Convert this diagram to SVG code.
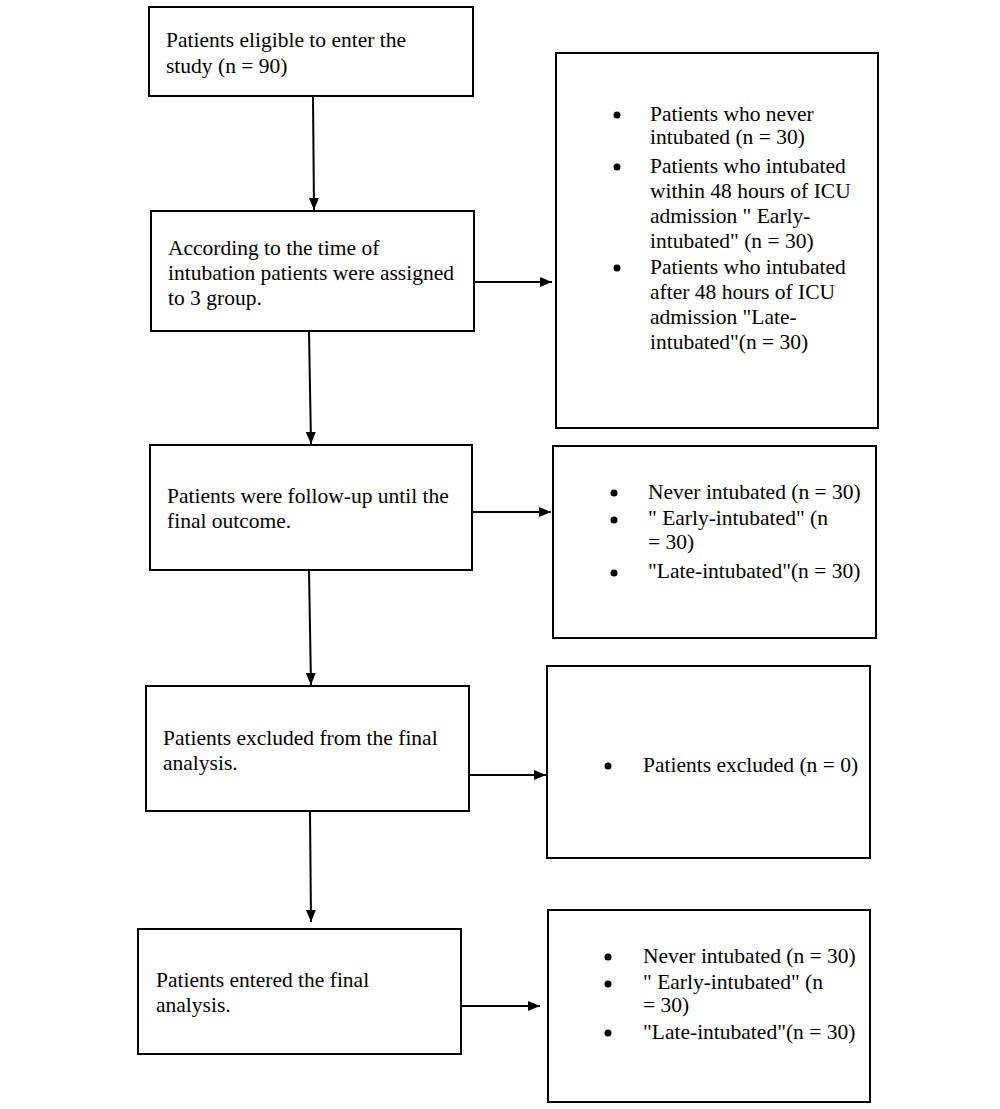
<svg xmlns="http://www.w3.org/2000/svg" width="1000" height="1109" viewBox="0 0 1000 1109">
<style>
  .box { fill: #fff; stroke: #000; stroke-width: 2; }
  .t { font-family: "Liberation Serif", "Times New Roman", serif; font-size: 21.5px; fill: #000; }
  .c { stroke: #000; stroke-width: 2; fill: none; marker-end: url(#ah); }
  .dot { fill: #000; }
</style>
<defs>
  <marker id="ah" viewBox="0 0 12 10" refX="12" refY="5" markerWidth="12" markerHeight="10" markerUnits="userSpaceOnUse" orient="auto">
    <path d="M0,0 L12,5 L0,10 Z" fill="#000"/>
  </marker>
</defs>
<rect width="1000" height="1109" fill="#fff"/>

<g id="connectors">
  <line class="c" x1="313" y1="97" x2="314" y2="210"/>
  <line class="c" x1="474" y1="282" x2="552" y2="282"/>
  <line class="c" x1="309" y1="332" x2="311" y2="444"/>
  <line class="c" x1="472" y1="512" x2="551" y2="512"/>
  <line class="c" x1="309" y1="571" x2="311" y2="685"/>
  <line class="c" x1="469" y1="775" x2="546" y2="775"/>
  <line class="c" x1="310" y1="812" x2="311" y2="922"/>
  <line class="c" x1="461" y1="1006" x2="540" y2="1006"/>
</g>

<g id="n1">
  <rect class="box" x="149" y="7" width="324" height="89"/>
  <text class="t" x="166" y="47">Patients eligible to enter the</text>
  <text class="t" x="166" y="73">study (n = 90)</text>
</g>

<g id="n2">
  <rect class="box" x="151" y="211" width="323" height="120"/>
  <text class="t" x="168" y="255">According to the time of</text>
  <text class="t" x="168" y="280">intubation patients were assigned</text>
  <text class="t" x="168" y="305">to 3 group.</text>
</g>

<g id="n3">
  <rect class="box" x="556" y="53" width="322" height="375"/>
  <circle class="dot" cx="617" cy="115" r="3.5"/>
  <text class="t" x="650" y="121">Patients who never</text>
  <text class="t" x="650" y="144">intubated (n = 30)</text>
  <circle class="dot" cx="617" cy="167" r="3.5"/>
  <text class="t" x="650" y="173">Patients who intubated</text>
  <text class="t" x="650" y="198">within 48 hours of ICU</text>
  <text class="t" x="650" y="223">admission " Early-</text>
  <text class="t" x="650" y="248">intubated" (n = 30)</text>
  <circle class="dot" cx="617" cy="268" r="3.5"/>
  <text class="t" x="650" y="274">Patients who intubated</text>
  <text class="t" x="650" y="299">after 48 hours of ICU</text>
  <text class="t" x="650" y="324">admission "Late-</text>
  <text class="t" x="650" y="349">intubated"(n = 30)</text>
</g>

<g id="n4">
  <rect class="box" x="150" y="445" width="322" height="125"/>
  <text class="t" x="167" y="503">Patients were follow-up until the</text>
  <text class="t" x="167" y="528">final outcome.</text>
</g>

<g id="n5">
  <rect class="box" x="553" y="446" width="323" height="192"/>
  <circle class="dot" cx="614" cy="493" r="3.5"/>
  <text class="t" x="648" y="499">Never intubated (n = 30)</text>
  <circle class="dot" cx="614" cy="520" r="3.5"/>
  <text class="t" x="648" y="525">" Early-intubated" (n</text>
  <text class="t" x="648" y="549">= 30)</text>
  <circle class="dot" cx="614" cy="573" r="3.5"/>
  <text class="t" x="648" y="578">"Late-intubated"(n = 30)</text>
</g>

<g id="n6">
  <rect class="box" x="146" y="686" width="323" height="125"/>
  <text class="t" x="163" y="745">Patients excluded from the final</text>
  <text class="t" x="163" y="770">analysis.</text>
</g>

<g id="n7">
  <rect class="box" x="547" y="666" width="323" height="192"/>
  <circle class="dot" cx="608" cy="766" r="3.5"/>
  <text class="t" x="643" y="772">Patients excluded (n = 0)</text>
</g>

<g id="n8">
  <rect class="box" x="138" y="929" width="323" height="125"/>
  <text class="t" x="156" y="987">Patients entered the final</text>
  <text class="t" x="156" y="1012">analysis.</text>
</g>

<g id="n9">
  <rect class="box" x="548" y="910" width="322" height="192"/>
  <circle class="dot" cx="608" cy="957" r="3.5"/>
  <text class="t" x="643" y="963">Never intubated (n = 30)</text>
  <circle class="dot" cx="608" cy="984" r="3.5"/>
  <text class="t" x="643" y="989">" Early-intubated" (n</text>
  <text class="t" x="643" y="1012">= 30)</text>
  <circle class="dot" cx="608" cy="1033" r="3.5"/>
  <text class="t" x="643" y="1039">"Late-intubated"(n = 30)</text>
</g>
</svg>
